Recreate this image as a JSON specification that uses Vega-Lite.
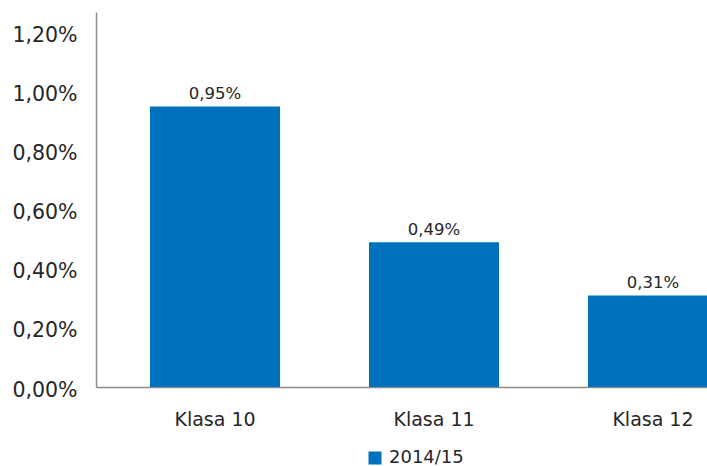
{
  "$schema": "https://vega.github.io/schema/vega-lite/v6.json",
  "width": 611,
  "height": 375,
  "autosize": {"type": "none"},
  "padding": {"left": 96, "top": 12, "right": 0, "bottom": 79},
  "background": "white",
  "config": {
    "locale": {"number": {"decimal": ",", "thousands": ".", "grouping": [3], "currency": ["", " €"]}},
    "view": {"stroke": null},
    "font": "DejaVu Sans",
    "axis": {"labelFont": "DejaVu Sans", "labelColor": "#262626", "grid": false, "ticks": false, "domainColor": "#8c8c8c", "domainWidth": 1.5}
  },
  "data": {
    "values": [
      {"klasa": "Klasa 10", "rok": "2014/15", "wartosc": 0.0095},
      {"klasa": "Klasa 11", "rok": "2014/15", "wartosc": 0.0049},
      {"klasa": "Klasa 12", "rok": "2014/15", "wartosc": 0.0031}
    ]
  },
  "encoding": {
    "x": {
      "field": "klasa", "type": "nominal", "sort": null,
      "scale": {"range": [0, 676], "paddingInner": 0.406, "paddingOuter": 0.2466},
      "axis": {"title": null, "labelAngle": 0, "labelFontSize": 19, "labelPadding": 23}
    },
    "y": {
      "field": "wartosc", "type": "quantitative",
      "scale": {"domain": [0, 0.0127], "nice": false},
      "axis": {"title": null, "values": [0, 0.002, 0.004, 0.006, 0.008, 0.01, 0.012], "format": ".2%", "labelFontSize": 20.5, "labelPadding": 19, "labelOffset": 3}
    }
  },
  "layer": [
    {
      "mark": {"type": "bar"},
      "encoding": {
        "color": {
          "field": "rok", "type": "nominal",
          "scale": {"range": ["#0071BD"]},
          "legend": {"title": null, "orient": "none", "legendX": 270, "legendY": 437, "symbolType": "square", "symbolSize": 169, "symbolStrokeWidth": 0, "labelFontSize": 18, "labelColor": "#262626", "labelFont": "DejaVu Sans", "labelOffset": 5}
        }
      }
    },
    {
      "mark": {"type": "text", "baseline": "alphabetic", "dy": -7, "fontSize": 16.5, "color": "#262626", "font": "DejaVu Sans"},
      "encoding": {
        "text": {"field": "wartosc", "type": "quantitative", "format": ".2%"}
      }
    }
  ]
}
